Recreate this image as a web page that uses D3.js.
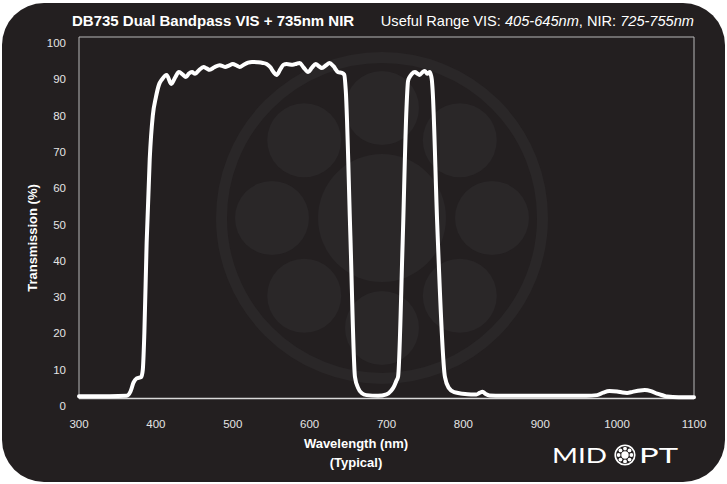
<!DOCTYPE html>
<head>
<meta charset="utf-8">
<style>
  body { margin:0; background:#fff; }
  svg { display:block; }
  .tick-label { fill:#e4e4e4; font-family:"Liberation Sans", Arial, sans-serif; font-size:11.5px; }
  .title { fill:#fff; font-family:"Liberation Sans", Arial, sans-serif; font-size:14.6px; }
  .axis-title { fill:#fff; font-family:"Liberation Sans", Arial, sans-serif; font-size:13px; font-weight:bold; }
</style>
</head>
<body>
<script src="https://cdn.jsdelivr.net/npm/d3@7"></script>
<script>

var width = 727,
    height = 484;

// transmission curve
var wavelength = [300,340,362,367,371,375,381,383,385,388,392,396,400,404,408,414,420,425,430,435,439,443,447,451,456,462,466,470,476,483,490,495,500,505,509,515,520,525,532,539,544,549,553,557,562,566,570,578,583,587,592,598,603,608,612,616,621,626,631,637,642,645,647,653,659,663,668,674,689,700,706,710,713,715,721,726,728,730,733,737,740,743,747,750,753,756,758,759,760,766,776,781,788,799,810,817,821,825,829,834,850,900,960,974,982,990,1000,1007,1013,1020,1030,1036,1044,1052,1060,1065,1080,1100];
var transmission = [2.7,2.7,2.8,4,6.5,7.6,8,10,20,45,68,80,85,88.5,90,91.2,88.7,90.5,92,91.3,90.6,91.6,92,91.5,92.5,93.4,93,92.6,93.3,93.9,93.4,93.8,94.2,93.8,93.4,94.1,94.6,94.8,94.7,94.5,94.2,93.3,92,91.2,92.8,94,94.2,94,94.3,94.5,93.3,92,93.2,94.2,93.6,93.1,93.8,94.5,93.6,92,91.8,91.3,87,47,8,5,3.5,3,2.8,3.2,4.2,5.5,7,8,45,82,89.5,90.6,91.5,92,91.6,91.2,92,92.3,91.5,92,91,89.8,87,50,8,5,3.8,3.4,3.2,3.2,3.6,3.9,3.3,2.9,2.8,2.8,2.8,3,3.7,4.1,4,3.7,3.6,3.9,4.3,4.4,4.1,3.4,2.9,2.6,2.4,2.4];

var xTicks = [300,400,500,600,700,800,900,1000,1100];
var yTicks = [0,10,20,30,40,50,60,70,80,90,100];

var x = d3.scaleLinear().domain([300, 1100]).range([79, 694]);
var y = d3.scaleLinear().domain([0, 100]).range([406, 43]);

var svg = d3.select("body").append("svg")
    .attr("width", width)
    .attr("height", height);

// dark card
svg.append("rect")
    .attr("x", 2).attr("y", 3)
    .attr("width", 723).attr("height", 479)
    .attr("rx", 42).attr("ry", 42)
    .style("fill", "#231f20");

// faint logo in the background
var cx = 382, cy = 218;
var bg = svg.append("g").style("fill", "#2a2728");
bg.append("circle")
    .attr("cx", cx).attr("cy", cy).attr("r", 160.5)
    .style("fill", "none").style("stroke", "#2a2728").style("stroke-width", 11);
bg.append("circle").attr("cx", cx).attr("cy", cy).attr("r", 64);
d3.range(8).forEach(function(i) {
  var a = i * Math.PI / 4;
  bg.append("circle")
    .attr("cx", cx + 110 * Math.cos(a))
    .attr("cy", cy + 110 * Math.sin(a))
    .attr("r", 37);
});

// plot frame
svg.append("path")
    .attr("d", "M79,399V37H694V399")
    .style("fill", "none").style("stroke", "#b8b8b8").style("stroke-width", 1);
svg.append("line")
    .attr("x1", 79).attr("x2", 694).attr("y1", 398.5).attr("y2", 398.5)
    .style("stroke", "#d8d8d8").style("stroke-width", 1.5);

// tick labels
svg.selectAll(".ylab")
    .data(yTicks).enter()
    .append("text")
    .attr("class", "tick-label")
    .attr("x", 66)
    .attr("y", function(d) { return y(d); })
    .attr("dy", "0.35em")
    .attr("text-anchor", "end")
    .text(function(d) { return d; });

svg.selectAll(".xlab")
    .data(xTicks).enter()
    .append("text")
    .attr("class", "tick-label")
    .attr("x", function(d) { return x(d); })
    .attr("y", 428)
    .attr("text-anchor", "middle")
    .text(function(d) { return d; });

// curve
var line = d3.line()
    .x(function(d) { return x(d[0]); })
    .y(function(d) { return y(d[1]); })
    .curve(d3.curveMonotoneX);

svg.append("path")
    .datum(d3.zip(wavelength, transmission))
    .attr("d", line)
    .style("fill", "none")
    .style("stroke", "#fff")
    .style("stroke-width", 4)
    .style("stroke-linejoin", "round")
    .style("stroke-linecap", "round");

// titles
svg.append("text")
    .attr("class", "title")
    .attr("x", 72).attr("y", 26)
    .style("font-weight", "bold")
    .style("font-size", "15px")
    .text("DB735 Dual Bandpass VIS + 735nm NIR");

var sub = svg.append("text")
    .attr("class", "title")
    .attr("x", 694).attr("y", 26)
    .attr("text-anchor", "end");
sub.append("tspan").text("Useful Range VIS: ");
sub.append("tspan").style("font-style", "italic").text("405-645nm");
sub.append("tspan").text(", NIR: ");
sub.append("tspan").style("font-style", "italic").text("725-755nm");

svg.append("text")
    .attr("class", "axis-title")
    .attr("transform", "translate(37,238) rotate(-90)")
    .attr("text-anchor", "middle")
    .text("Transmission (%)");

svg.append("text")
    .attr("class", "axis-title")
    .attr("x", 356).attr("y", 448)
    .attr("text-anchor", "middle")
    .text("Wavelength (nm)");
svg.append("text")
    .attr("class", "axis-title")
    .attr("x", 356).attr("y", 467)
    .attr("text-anchor", "middle")
    .text("(Typical)");

// MIDOPT mark
var brand = svg.append("g").style("fill", "#fff");
brand.append("text")
    .attr("x", 552).attr("y", 463)
    .attr("textLength", 55)
    .attr("lengthAdjust", "spacingAndGlyphs")
    .style("font-family", "Lato, 'Open Sans', sans-serif")
    .style("font-size", "21px")
    .text("MID");
brand.append("text")
    .attr("x", 639).attr("y", 463)
    .attr("textLength", 39)
    .attr("lengthAdjust", "spacingAndGlyphs")
    .style("font-family", "Lato, 'Open Sans', sans-serif")
    .style("font-size", "21px")
    .text("PT");
brand.append("circle")
    .attr("cx", 625).attr("cy", 455).attr("r", 9.8)
    .style("fill", "none").style("stroke", "#fff").style("stroke-width", 1.6);
brand.append("circle").attr("cx", 625).attr("cy", 455).attr("r", 3.7);
d3.range(8).forEach(function(i) {
  var a = i * Math.PI / 4;
  brand.append("circle")
    .attr("cx", 625 + 6.4 * Math.cos(a))
    .attr("cy", 455 + 6.4 * Math.sin(a))
    .attr("r", 1.9);
});

</script>
</body>
